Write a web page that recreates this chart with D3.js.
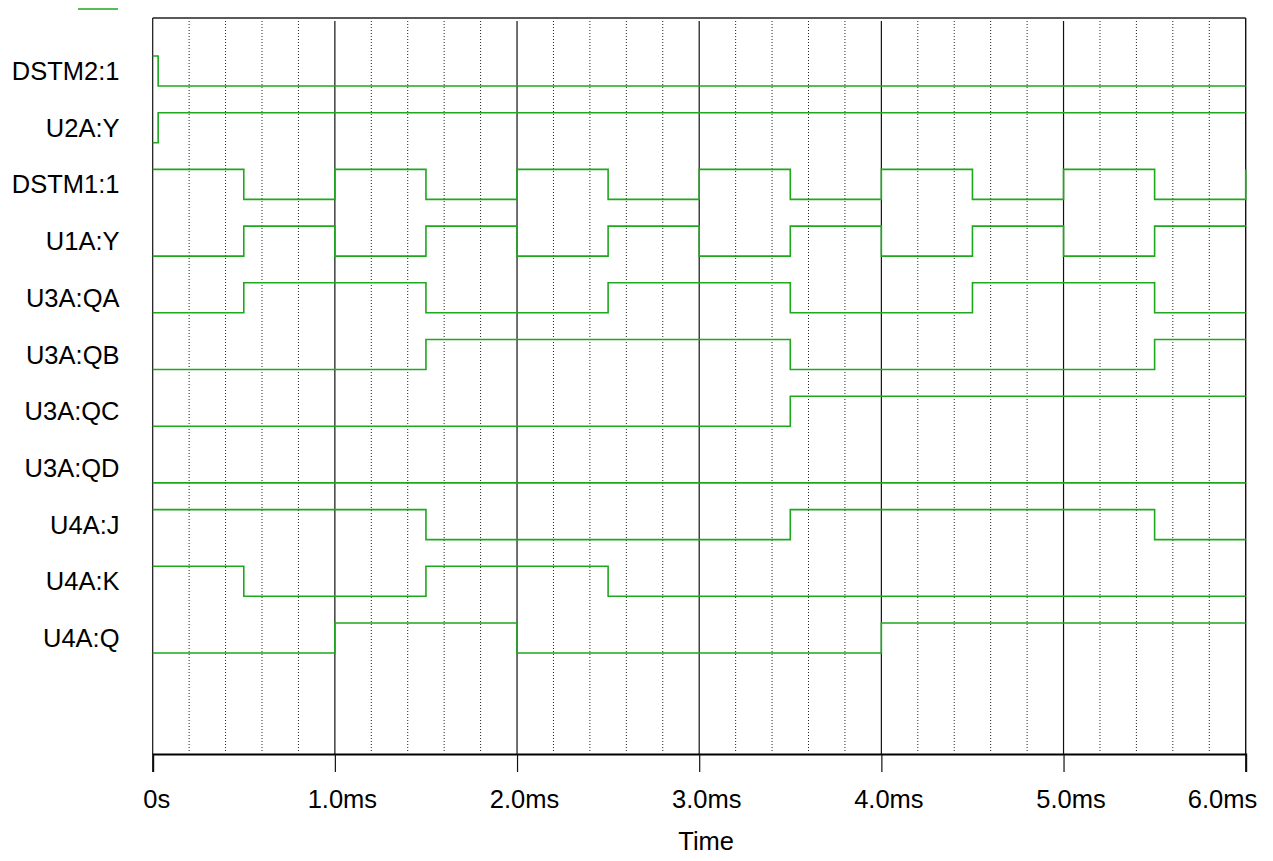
<!DOCTYPE html>
<html>
<head>
<meta charset="utf-8">
<script src="https://cdn.jsdelivr.net/npm/d3@7"></script>
<style>
  html, body { margin: 0; padding: 0; background: #fff; }
  svg { display: block; font-family: "Liberation Sans", Arial, sans-serif; }
</style>
</head>
<body>
<svg id="chart" width="1273" height="861"></svg>
<script>
// ---- data ----
const signalNames = ["DSTM2:1", "U2A:Y", "DSTM1:1", "U1A:Y", "U3A:QA", "U3A:QB",
                     "U3A:QC", "U3A:QD", "U4A:J", "U4A:K", "U4A:Q"];
// transitions: [time (ms), logic level]
const dstm2 = [[0, 1], [0.03, 0], [6, 0]];
const u2aY  = [[0, 0], [0.03, 1], [6, 1]];
const dstm1 = [[0, 1], [0.5, 0], [1, 1], [1.5, 0], [2, 1], [2.5, 0], [3, 1], [3.5, 0],
               [4, 1], [4.5, 0], [5, 1], [5.5, 0], [6, 1]];
const u1aY  = [[0, 0], [0.5, 1], [1, 0], [1.5, 1], [2, 0], [2.5, 1], [3, 0], [3.5, 1],
               [4, 0], [4.5, 1], [5, 0], [5.5, 1], [6, 1]];
const u3aQA = [[0, 0], [0.5, 1], [1.5, 0], [2.5, 1], [3.5, 0], [4.5, 1], [5.5, 0], [6, 0]];
const u3aQB = [[0, 0], [1.5, 1], [3.5, 0], [5.5, 1], [6, 1]];
const u3aQC = [[0, 0], [3.5, 1], [6, 1]];
const u3aQD = [[0, 0], [6, 0]];
const u4aJ  = [[0, 1], [1.5, 0], [3.5, 1], [5.5, 0], [6, 0]];
const u4aK  = [[0, 1], [0.5, 0], [1.5, 1], [2.5, 0], [6, 0]];
const u4aQ  = [[0, 0], [1, 1], [2, 0], [4, 1], [6, 1]];
const seriesValues = [dstm2, u2aY, dstm1, u1aY, u3aQA, u3aQB, u3aQC, u3aQD, u4aJ, u4aK, u4aQ];
const xTicks = [0, 1, 2, 3, 4, 5, 6];
const xTickLabels = ["0s", "1.0ms", "2.0ms", "3.0ms", "4.0ms", "5.0ms", "6.0ms"];
const minorTicks = d3.range(0, 6.0001, 0.2).filter(t => Math.abs(t - Math.round(t)) > 1e-6);
const xTitle = "Time";

// ---- layout ----
const svg = d3.select("#chart");
const pLeft = 152.7, pRight = 1245.7, pTop = 18, pBottom = 754;
const green = "#1ea81e";
const fontSize = 25.5;

const x = d3.scaleLinear().domain([0, 6]).range([pLeft, pRight]);
const rowBase = d3.scalePoint().domain(signalNames).range([86, 653]);
const amp = 30;
const level = d3.scaleLinear().domain([0, 1]).range([0, -amp]);

// minor dotted grid
svg.append("g").selectAll("line").data(minorTicks).join("line")
  .attr("x1", d => x(d)).attr("x2", d => x(d))
  .attr("y1", pTop + 3).attr("y2", pBottom - 1)
  .attr("stroke", "#222").attr("stroke-width", 1)
  .attr("stroke-dasharray", "1,2");

// major grid
svg.append("g").selectAll("line").data(xTicks.slice(1, -1)).join("line")
  .attr("x1", d => x(d)).attr("x2", d => x(d))
  .attr("y1", pTop + 3).attr("y2", pBottom)
  .attr("stroke", "#111").attr("stroke-width", 1.2);

// frame (top, left, right)
svg.append("line").attr("x1", pLeft).attr("x2", pRight).attr("y1", pTop).attr("y2", pTop)
  .attr("stroke", "#222").attr("stroke-width", 1.4);
svg.append("line").attr("x1", pLeft).attr("x2", pLeft).attr("y1", pTop).attr("y2", pBottom)
  .attr("stroke", "#111").attr("stroke-width", 1.2);
svg.append("line").attr("x1", pRight).attr("x2", pRight).attr("y1", pTop).attr("y2", pBottom)
  .attr("stroke", "#111").attr("stroke-width", 1.4);

// x axis
const xAxis = d3.axisBottom(x).tickValues(xTicks)
  .tickFormat((d, i) => xTickLabels[i]).tickSize(18).tickPadding(18);
const gx = svg.append("g").attr("transform", `translate(0,${pBottom})`).call(xAxis);
gx.select(".domain").attr("stroke", "#000").attr("stroke-width", 2);
gx.selectAll(".tick line").attr("stroke", "#111").attr("stroke-width", 1.2);
gx.selectAll(".tick text").attr("font-size", fontSize)
  .attr("font-family", "Liberation Sans, Arial, sans-serif")
  .attr("fill", "#000")
  .attr("text-anchor", (d, i) => i === xTicks.length - 1 ? "end" : "middle")
  .attr("dx", (d, i) => i === 0 ? 3.5 : (i === xTicks.length - 1 ? 11 : 7));

svg.append("text").attr("x", (pLeft + pRight) / 2 + 7).attr("y", 850)
  .attr("text-anchor", "middle").attr("font-size", fontSize).text(xTitle);

// signal labels
svg.append("g").selectAll("text").data(signalNames).join("text")
  .attr("x", 119.5).attr("y", d => rowBase(d) - amp / 2)
  .attr("text-anchor", "end").attr("dominant-baseline", "central")
  .attr("font-size", fontSize).attr("fill", "#000")
  .text(d => d);

// waveforms
const line = d3.line().curve(d3.curveStepAfter);
svg.append("g").selectAll("path").data(seriesValues).join("path")
  .attr("d", (s, i) => {
    const base = rowBase(signalNames[i]);
    return line(s.map(p => [x(p[0]), base + level(p[1])]));
  })
  .attr("fill", "none").attr("stroke", green).attr("stroke-width", 1.6);

// legend swatch
svg.append("line").attr("x1", 78).attr("x2", 118).attr("y1", 9).attr("y2", 9)
  .attr("stroke", green).attr("stroke-width", 1.6);
</script>
</body>
</html>
